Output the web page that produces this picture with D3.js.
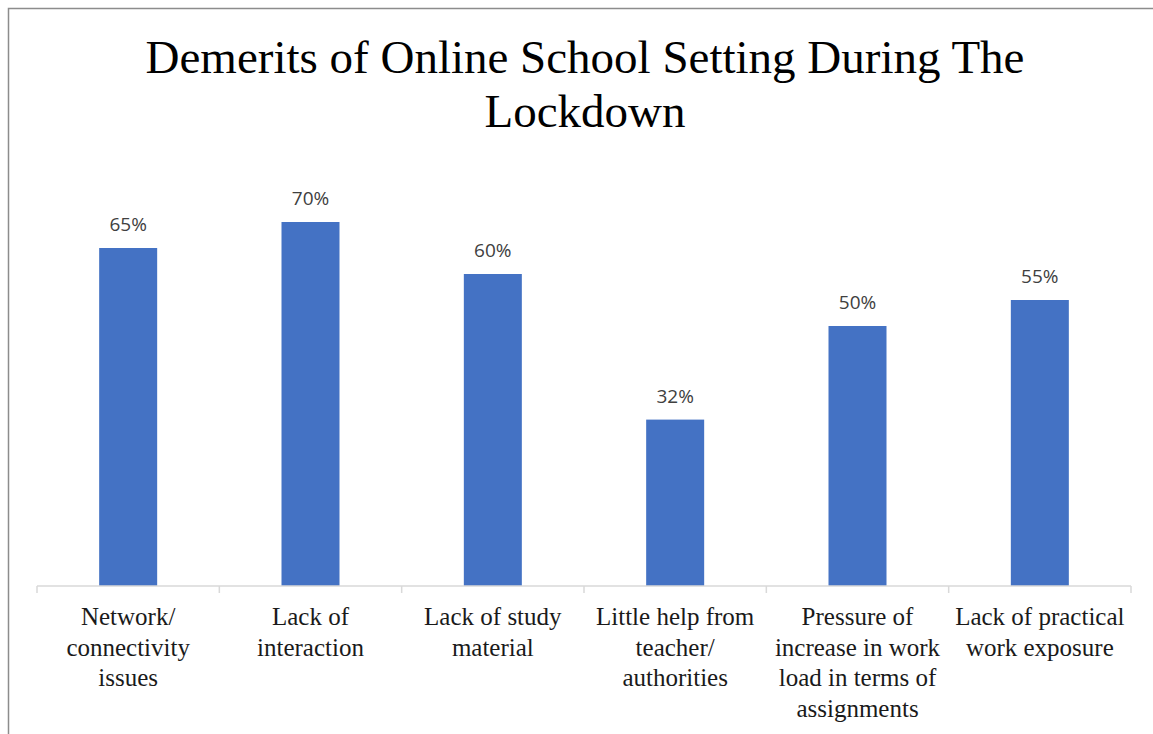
<!DOCTYPE html>
<html><head><meta charset="utf-8">
<script src="https://cdn.jsdelivr.net/npm/d3@7"></script>
<style>html,body{margin:0;padding:0;background:#fff;overflow:hidden}</style>
</head><body>
<svg id="chart" width="1153" height="734"></svg>
<script>
const titleLines = ["Demerits of  Online School Setting During The", "Lockdown"];
const categories = [
  ["Network/", "connectivity", "issues"],
  ["Lack of", "interaction"],
  ["Lack of study", "material"],
  ["Little help from", "teacher/", "authorities"],
  ["Pressure of", "increase in work", "load in terms of", "assignments"],
  ["Lack of practical", "work exposure"]
];
const values = [0.65, 0.70, 0.60, 0.32, 0.50, 0.55];
const valueLabels = ["65%", "70%", "60%", "32%", "50%", "55%"];

const svg = d3.select("#chart");
svg.append("rect").attr("x", 8.5).attr("y", 8.5).attr("width", 1160).attr("height", 740)
  .attr("fill", "#fff").attr("stroke", "#8c8c8c").attr("stroke-width", 1.5);

const left = 37, right = 1131, baseY = 586;
const x = d3.scaleBand().domain(d3.range(categories.length)).range([left, right]).paddingInner(0).paddingOuter(0);
const y = d3.scaleLinear().domain([0, 0.8]).range([baseY, baseY - 5.2 * 80]);
const barW = 58;

svg.append("text").attr("x", 585).attr("text-anchor", "middle")
  .style("font-family", "'Liberation Serif', 'Times New Roman', serif").style("font-size", "47px").attr("fill", "#000")
  .selectAll("tspan").data(titleLines).join("tspan")
  .attr("x", 585).attr("y", (d, i) => 73 + i * 54).text(d => d);

svg.selectAll("rect.bar").data(values).join("rect").attr("class", "bar")
  .attr("x", (d, i) => x(i) + x.bandwidth() / 2 - barW / 2)
  .attr("width", barW)
  .attr("y", d => y(d))
  .attr("height", d => baseY - y(d))
  .attr("fill", "#4472c4");

svg.selectAll("text.val").data(values).join("text").attr("class", "val")
  .attr("x", (d, i) => x(i) + x.bandwidth() / 2)
  .attr("y", d => y(d) - 17)
  .attr("text-anchor", "middle")
  .style("font-family", "'Open Sans', 'Liberation Sans', sans-serif").style("font-size", "19px")
  .attr("fill", "#404040")
  .text((d, i) => valueLabels[i]);

const axis = d3.axisBottom(x).tickSize(0).tickFormat("");
const gAxis = svg.append("g").attr("transform", `translate(0,${baseY})`).call(axis);
gAxis.select(".domain").attr("stroke", "#d9d9d9").attr("stroke-width", 1.5).attr("d", `M${left},0H${right}`);
const bounds = d3.range(categories.length + 1).map(i => left + i * x.step());
gAxis.selectAll("line.bound").data(bounds).join("line").attr("class", "bound")
  .attr("x1", d => d).attr("x2", d => d).attr("y1", 0).attr("y2", 7)
  .attr("stroke", "#d9d9d9").attr("stroke-width", 1.5);

const cat = svg.selectAll("text.cat").data(categories).join("text").attr("class", "cat")
  .attr("text-anchor", "middle")
  .style("font-family", "'Liberation Serif', 'Times New Roman', serif").style("font-size", "25px")
  .attr("fill", "#1a1a1a");
cat.each(function(lines, i) {
  d3.select(this).selectAll("tspan").data(lines).join("tspan")
    .attr("x", x(i) + x.bandwidth() / 2)
    .attr("y", (d, j) => 625 + j * 30.5)
    .text(d => d);
});
</script>
</body></html>
